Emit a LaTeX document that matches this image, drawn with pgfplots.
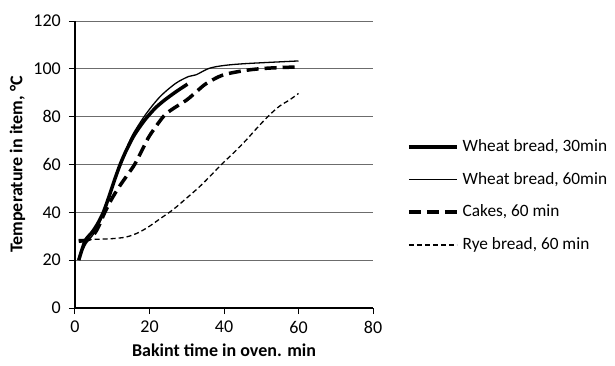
\documentclass[border=0pt]{standalone}
\usepackage{fontspec}
\setmainfont{Carlito}
\usepackage{pgfplots}
\pgfplotsset{compat=1.18}
\begin{document}
\fontsize{18}{21}\selectfont
\begin{tikzpicture}
\path[use as bounding box] (-75pt,-57pt) rectangle (540pt,308pt);
\begin{axis}[
  at={(0pt,0pt)}, anchor=origin,
  scale only axis, width=298pt, height=287pt,
  xmin=0, xmax=80, ymin=0, ymax=120,
  xtick={0,20,...,80}, ytick={0,20,...,120},
  axis lines*=left,
  axis line style={black, line width=1.2pt},
  tick align=outside, major tick length=6pt,
  tick style={black, line width=1pt},
  ymajorgrids, grid style={gray!85!black, line width=0.9pt},
  /pgf/number format/assume math mode=true,
  ticklabel style={font=\fontsize{18}{21}\selectfont},
  xticklabel style={yshift=-1pt},
  yticklabel style={xshift=-2pt},
  xlabel={\textbf{Bakint time in oven. min}},
  ylabel={\textbf{Temperature in item, °C}},
  label style={font=\fontsize{18}{21}\selectfont},
  xlabel style={yshift=2pt},
  ylabel style={yshift=-4pt},
  clip=false,
  legend cell align=left,
  legend style={draw=none, fill=none, at={(rel axis cs:1.114,0.595)}, anchor=north west,
    font=\fontsize{17.3}{21}\selectfont, row sep=14pt, inner sep=0pt},
  legend image code/.code={\draw[#1] (0pt,0pt) -- (48pt,0pt); \path (50pt,0pt);},
]
\addplot[black, line width=3.5pt, smooth] coordinates {
(1,20) (2.7,28) (4.5,31.5) (6,35) (7.6,40) (9,46) (10.5,53) (12,59.5) (13.5,65) (15.6,71.5) (17.5,76) (19.2,79.5) (21.5,83.5) (23.7,86.5) (27,90.3) (30.2,93.6)};
\addlegendentry{Wheat bread, 30min}
\addplot[black, line width=1.3pt, smooth] coordinates {
(1,21) (3,27) (5,31) (7,37) (9,45.5) (10.5,52.5) (12,59.5) (13.5,65.5) (15.5,72.5) (19,81) (22.8,88.3) (27,93.9) (30.5,96.8) (32.5,97.5) (36,100.2) (40,101.4) (46,102.2) (60,103.3)};
\addlegendentry{Wheat bread, 60min}
\addplot[black, line width=3.5pt, dash pattern=on 12pt off 6pt, smooth] coordinates {
(1,27.9) (4,28.9) (6,33) (8,40) (10,46) (12,51) (14,55.5) (16,60) (18,66) (20,72) (23.7,80) (26,83) (30,87) (33,91) (35.3,93.9) (39.7,97.4) (46,99.4) (52,100.3) (60,100.8)};
\addlegendentry{Cakes, 60 min}
\addplot[black, line width=1.3pt, dash pattern=on 5pt off 3pt, smooth] coordinates {
(1,28.6) (5,28.7) (10,29) (13.8,29.7) (17,31.5) (20,34.2) (23,37.5) (26.3,41.1) (30,46) (33.5,50.8) (36.5,55.5) (39.7,60.6) (43,65.5) (46,70.3) (49,75.5) (52.2,80.7) (55,84.5) (57.6,87) (60,89.7)};
\addlegendentry{Rye bread, 60 min}
\end{axis}
\end{tikzpicture}
\end{document}
